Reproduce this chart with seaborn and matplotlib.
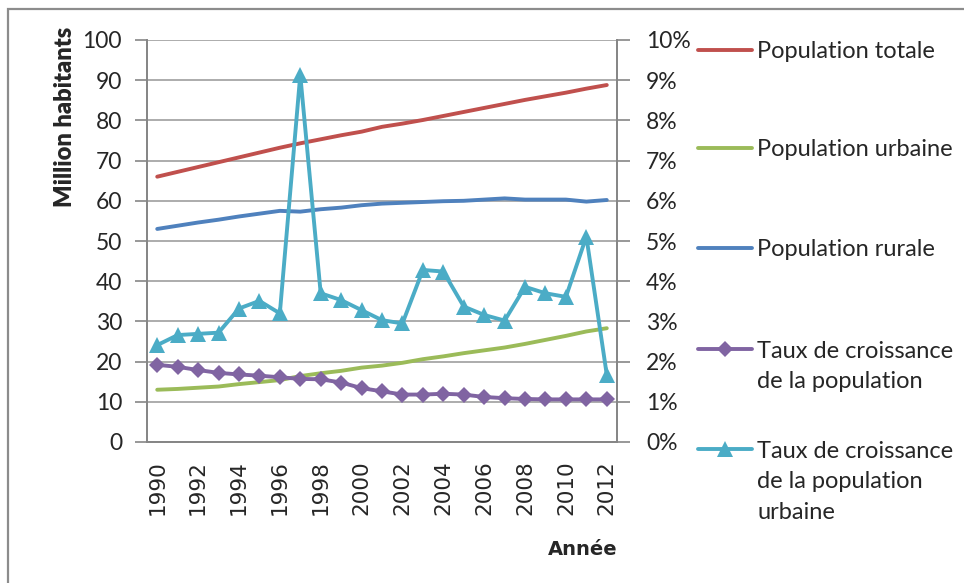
import matplotlib
matplotlib.use('Agg')
import matplotlib.pyplot as plt
from matplotlib.lines import Line2D
from matplotlib.patches import Rectangle
from matplotlib.ticker import MultipleLocator, FuncFormatter
import pandas as pd
import seaborn as sns

years = list(range(1990, 2013))
pop_totale = [66.0, 67.2, 68.4, 69.6, 70.8, 72.0, 73.2, 74.3, 75.3, 76.3, 77.2, 78.4,
              79.2, 80.1, 81.1, 82.1, 83.1, 84.1, 85.1, 86.0, 86.9, 87.9, 88.8]
pop_urbaine = [13.0, 13.2, 13.5, 13.8, 14.4, 14.9, 15.4, 16.4, 17.1, 17.7, 18.5, 19.0,
               19.7, 20.6, 21.3, 22.1, 22.8, 23.5, 24.4, 25.4, 26.4, 27.5, 28.3]
pop_rurale = [53.0, 53.8, 54.6, 55.3, 56.1, 56.8, 57.5, 57.3, 57.9, 58.3, 58.9, 59.3,
              59.5, 59.7, 59.9, 60.0, 60.3, 60.6, 60.3, 60.3, 60.3, 59.8, 60.2]
# taux de croissance en %
taux_pop = [1.92, 1.87, 1.79, 1.72, 1.68, 1.65, 1.61, 1.57, 1.56, 1.48, 1.34, 1.26,
            1.18, 1.18, 1.20, 1.18, 1.12, 1.09, 1.07, 1.06, 1.06, 1.06, 1.06]
taux_urb = [2.41, 2.66, 2.69, 2.72, 3.32, 3.51, 3.20, 9.13, 3.70, 3.53, 3.28, 3.03,
            2.95, 4.28, 4.24, 3.37, 3.16, 3.02, 3.86, 3.70, 3.61, 5.11, 1.67]

df = pd.DataFrame({'annee': years, 'totale': pop_totale, 'urbaine': pop_urbaine,
                   'rurale': pop_rurale, 'taux_pop': taux_pop, 'taux_urb': taux_urb})

RED, GREEN, BLUE, PURPLE, CYAN = '#C0504D', '#9BBB59', '#4F81BD', '#8064A2', '#4BACC6'
GRID = '#A6A6A6'
AXC = '#868686'
LW = 2.8

sns.set_style('white')
plt.rcParams['font.family'] = ['Lato', 'DejaVu Sans']

fig = plt.figure(figsize=(9.64, 5.83), dpi=100)
ax = fig.add_axes([147 / 964, 1 - 442 / 583, 470 / 964, 402 / 583])
ax2 = ax.twinx()

sns.lineplot(data=df, x='annee', y='totale', ax=ax, color=RED, lw=LW)
sns.lineplot(data=df, x='annee', y='urbaine', ax=ax, color=GREEN, lw=LW)
sns.lineplot(data=df, x='annee', y='rurale', ax=ax, color=BLUE, lw=LW)
sns.lineplot(data=df, x='annee', y='taux_pop', ax=ax2, color=PURPLE, lw=LW,
             marker='D', markersize=8.5, markeredgewidth=0)
sns.lineplot(data=df, x='annee', y='taux_urb', ax=ax2, color=CYAN, lw=LW,
             marker='^', markersize=11, markeredgewidth=0)

ax.set_xlim(1989.5, 2012.5)
ax.set_ylim(0, 100)
ax2.set_ylim(0, 10)
ax.yaxis.set_major_locator(MultipleLocator(10))
ax2.yaxis.set_major_locator(MultipleLocator(1))
ax2.yaxis.set_major_formatter(FuncFormatter(lambda v, p: f'{v:.0f}%'))

ax.set_xticks(years[::2])
ax.set_xticks([y - 0.5 for y in years] + [2012.5], minor=True)
ax.tick_params(axis='x', which='major', length=0, pad=13, labelrotation=90,
               labelsize=15.5)
for t in ax.get_xticklabels():
    t.set_family('DejaVu Sans')
ax.tick_params(axis='x', which='minor', length=9, width=1.2, color=AXC, direction='out')
ax.tick_params(axis='y', length=9, width=1.2, color=AXC, direction='out', pad=9,
               labelsize=16.5, left=True)
ax2.tick_params(axis='y', length=9, width=1.2, color=AXC, direction='out', pad=12,
                labelsize=16.5, right=True)

ax.grid(axis='y', color=GRID, lw=1.3)
ax.grid(axis='x', visible=False)
ax2.grid(False)
for a in (ax, ax2):
    for s in a.spines.values():
        s.set_color(AXC)
        s.set_linewidth(1.3)
    a.spines['top'].set_visible(False)

ax.set_ylabel('Million habitants', fontsize=17, fontweight='heavy')
ax.yaxis.set_label_coords(-0.15, 0.81)
ax.set_xlabel('Année', fontsize=14, fontweight='bold', family='DejaVu Sans')
ax.xaxis.set_label_coords(0.928, -0.245)
ax2.set_ylabel('')

# cadre du graphique
fig.patches.append(Rectangle((7.5 / 964, -0.1), 1.2, 1 - 9.5 / 583 + 0.1,
                             transform=fig.transFigure, fill=False,
                             edgecolor='#8C8C8C', lw=1.6))

# légende
LFS = 17
leg_x = 698 / 964
entries = [
    (Line2D([], [], color=RED, lw=LW), ['Population totale'], 52),
    (Line2D([], [], color=GREEN, lw=LW), ['Population urbaine'], 150),
    (Line2D([], [], color=BLUE, lw=LW), ['Population rurale'], 250),
    (Line2D([], [], color=PURPLE, lw=LW, marker='D', markersize=8.5, markeredgewidth=0),
     ['Taux de croissance', 'de la population'], 366.5),
    (Line2D([], [], color=CYAN, lw=LW, marker='^', markersize=11, markeredgewidth=0),
     ['Taux de croissance', 'de la population', 'urbaine'], 482),
]
for h, labels, yc in entries:
    blanks = [Line2D([], [], linestyle='none') for _ in labels[1:]]
    leg = fig.legend(handles=[h] + blanks, labels=labels, loc='center left',
                     bbox_to_anchor=(leg_x, 1 - yc / 583), frameon=False,
                     borderpad=0, borderaxespad=0, handlelength=2.3,
                     handletextpad=0.2, labelspacing=0.42, fontsize=LFS)

fig.savefig('out.png', dpi=100)
